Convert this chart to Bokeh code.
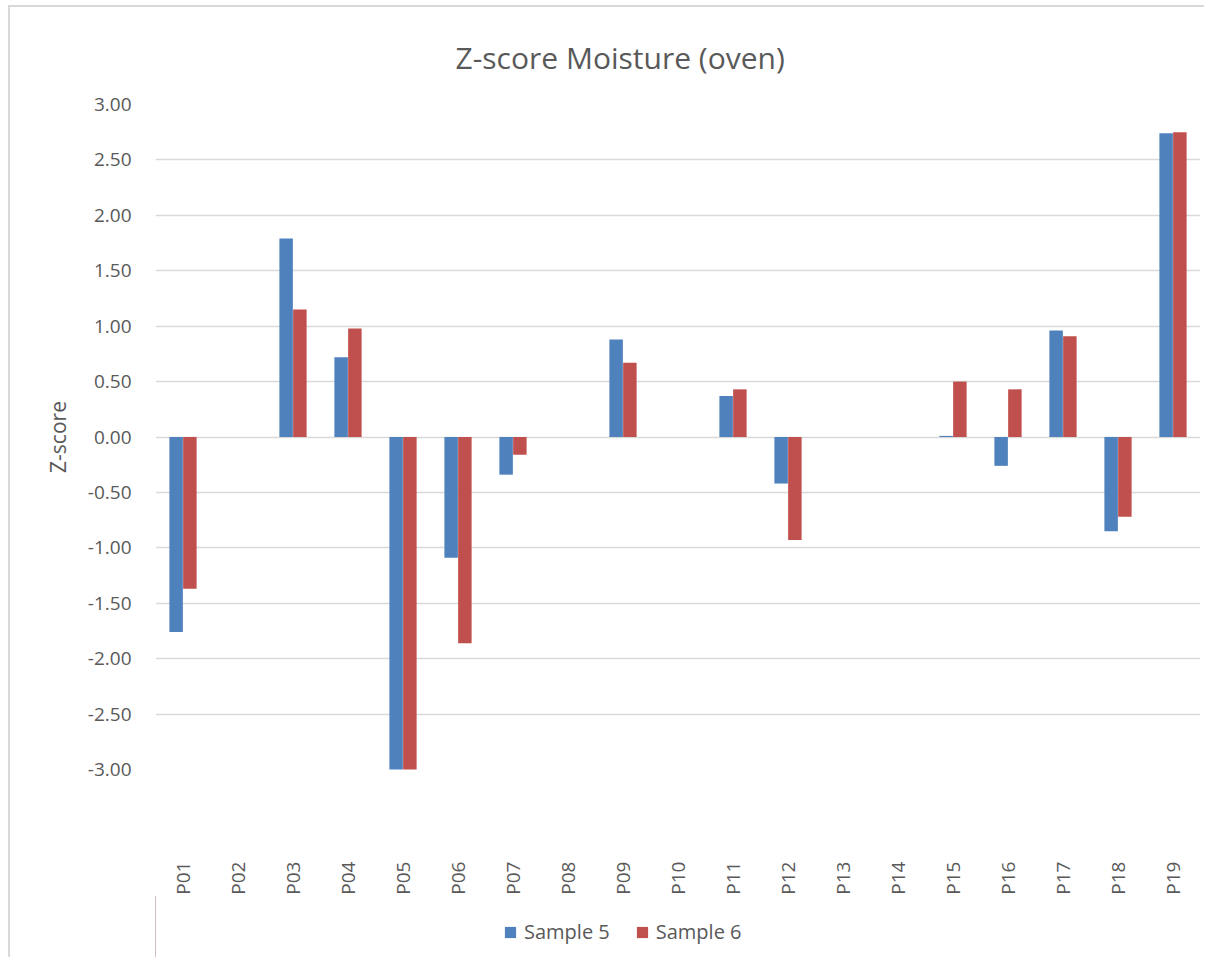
import math
from bokeh.plotting import figure
from bokeh.layouts import column
from bokeh.models import (ColumnDataSource, FactorRange, Range1d, FixedTicker,
                          NumeralTickFormatter, Legend, LegendItem, Title)
from bokeh.transform import dodge
from bokeh.embed import file_html
from bokeh.resources import INLINE

nan = float("nan")

categories = ["P01", "P02", "P03", "P04", "P05", "P06", "P07", "P08", "P09", "P10",
              "P11", "P12", "P13", "P14", "P15", "P16", "P17", "P18", "P19"]
sample5 = [-1.76, nan, 1.79, 0.72, -3.02, -1.09, -0.34, nan, 0.88, nan,
           0.37, -0.42, nan, nan, 0.01, -0.26, 0.96, -0.85, 2.74]
sample6 = [-1.37, nan, 1.15, 0.98, -3.02, -1.86, -0.16, nan, 0.67, nan,
           0.43, -0.93, nan, nan, 0.50, 0.43, 0.91, -0.72, 2.75]
y_ticks = [-3.0, -2.5, -2.0, -1.5, -1.0, -0.5, 0.0, 0.5, 1.0, 1.5, 2.0, 2.5, 3.0]

title_text = "Z-score Moisture (oven)"
y_label = "Z-score"
series_names = ["Sample 5", "Sample 6"]
colors = ["#4F81BD", "#C0504D"]

FONT = "Open Sans"
TXT = "#595959"
BORDER = "2px solid #d9d9d9"

source = ColumnDataSource(data=dict(cat=categories, s5=sample5, s6=sample6))

p = figure(
    frame_width=1043, frame_height=663,
    x_range=FactorRange(factors=categories, range_padding=0),
    y_range=Range1d(-3, 3),
    output_backend="svg", toolbar_location=None,
    min_border_left=145, min_border_right=6, min_border_top=97, min_border_bottom=126,
    styles={"border-left": BORDER, "border-top": BORDER,
            "margin-left": "8px", "margin-top": "5px"},
)
p.outline_line_color = None
p.background_fill_color = "white"
p.border_fill_color = "white"

p.title = Title(text=title_text, align="left", offset=300, standoff=54,
                text_font=FONT, text_font_size="30px", text_font_style="normal",
                text_color=TXT)

p.vbar(x=dodge("cat", -0.125, range=p.x_range), top="s5", bottom=0, width=0.245,
       source=source, fill_color=colors[0], line_color=None)
p.vbar(x=dodge("cat", 0.125, range=p.x_range), top="s6", bottom=0, width=0.245,
       source=source, fill_color=colors[1], line_color=None)

# y axis
p.yaxis.ticker = FixedTicker(ticks=y_ticks)
p.yaxis.formatter = NumeralTickFormatter(format="0.00")
p.yaxis.axis_line_color = None
p.yaxis.major_tick_line_color = None
p.yaxis.minor_tick_line_color = None
p.yaxis.major_label_standoff = 18
p.yaxis.major_label_text_font = FONT
p.yaxis.major_label_text_font_size = "19px"
p.yaxis.major_label_text_color = TXT
p.yaxis.axis_label = y_label
p.yaxis.axis_label_text_font = FONT
p.yaxis.axis_label_text_font_size = "21px"
p.yaxis.axis_label_text_font_style = "normal"
p.yaxis.axis_label_text_color = TXT
p.yaxis.axis_label_standoff = 13

# x axis
p.xaxis.axis_line_color = None
p.xaxis.major_tick_line_color = None
p.xaxis.minor_tick_line_color = None
p.xaxis.major_label_orientation = math.pi / 2
p.xaxis.major_label_standoff = 86
p.xaxis.major_label_text_font = FONT
p.xaxis.major_label_text_font_size = "19px"
p.xaxis.major_label_text_color = TXT

# grid
p.xgrid.grid_line_color = None
p.ygrid.ticker = FixedTicker(ticks=y_ticks)
p.ygrid.grid_line_color = "#d9d9d9"
p.ygrid.grid_line_width = 1.5

# legend strip below the chart (continuation of the chart area)
leg = figure(
    frame_width=1043, height=62,
    x_range=Range1d(0, 1), y_range=Range1d(0, 1),
    output_backend="svg", toolbar_location=None,
    x_axis_location=None, y_axis_location=None,
    min_border_left=145, min_border_right=6, min_border_top=0, min_border_bottom=0,
    styles={"border-left": BORDER, "margin-left": "8px"},
)
leg.outline_line_color = None
leg.xgrid.grid_line_color = None
leg.ygrid.grid_line_color = None
leg.background_fill_color = "white"
leg.border_fill_color = "white"

# swatch renderers (positioned outside the visible range, used only for the legend)
sw5 = leg.vbar(x=[-5], top=[1], bottom=0, width=0.1, fill_color=colors[0], line_color=None)
sw6 = leg.vbar(x=[-5], top=[1], bottom=0, width=0.1, fill_color=colors[1], line_color=None)

legend = Legend(
    items=[LegendItem(label=series_names[0], renderers=[sw5]),
           LegendItem(label=series_names[1], renderers=[sw6])],
    orientation="horizontal", location=(348, 12),
    glyph_width=14, glyph_height=14, label_standoff=7, spacing=25,
    padding=0, margin=0, border_line_color=None, background_fill_alpha=0,
    label_text_font=FONT, label_text_font_size="20px", label_text_color=TXT,
)
leg.add_layout(legend, "center")

layout = column(p, leg, spacing=0)

open("out.html", "w").write(file_html(layout, INLINE))
